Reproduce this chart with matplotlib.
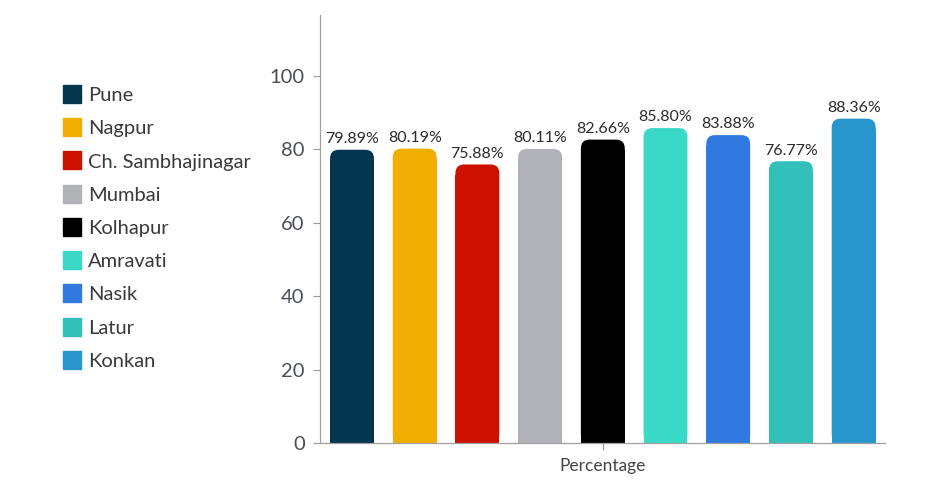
import matplotlib
matplotlib.use("Agg")
import matplotlib.pyplot as plt
from matplotlib.patches import FancyBboxPatch, Rectangle
from matplotlib.lines import Line2D

categories = ["Pune", "Nagpur", "Ch. Sambhajinagar", "Mumbai", "Kolhapur",
              "Amravati", "Nasik", "Latur", "Konkan"]
values = [79.89, 80.19, 75.88, 80.11, 82.66, 85.80, 83.88, 76.77, 88.36]
colors = ["#03354f", "#f0ae00", "#cc1100", "#b1b2b5", "#000000",
          "#3ad9c7", "#3178e0", "#33c0bb", "#2896cc"]
yticks = [0, 20, 40, 60, 80, 100]
xlabel = "Percentage"

plt.rcParams['font.family'] = ['Lato', 'DejaVu Sans']

fig = plt.figure(figsize=(9.4, 4.92), dpi=100)
ax = fig.add_axes([320/940, 1-443/492, 565/940, 428/492])

ylim_top = 116.6
xlim = (-0.51, 8.5)
ax.set_xlim(*xlim)
ax.set_ylim(0, ylim_top)

width = 0.70
r = 0.14
px_x = 565 / (xlim[1] - xlim[0])
px_y = 428 / ylim_top
aspect = px_x / px_y

for i, (v, c) in enumerate(zip(values, colors)):
    x0 = i - width / 2
    p = FancyBboxPatch((x0, 0), width, v,
                       boxstyle=f"round,pad=0,rounding_size={r}",
                       mutation_aspect=aspect, facecolor=c, edgecolor="none", zorder=2)
    ax.add_patch(p)
    ax.add_patch(Rectangle((x0, 0), width, v - r * aspect - 0.5, facecolor=c,
                           edgecolor="none", zorder=2))
    ax.text(i, v + 1.0, f"{v:.2f}%", ha="center", va="bottom", fontsize=11.5,
            color="#2b2b2b", zorder=3)

ax.set_yticks(yticks)
ax.set_yticklabels([str(t) for t in yticks], fontsize=14.5, color="#4a4d5a")
ax.set_xticks([4])
ax.set_xticklabels([xlabel], fontsize=12.5, color="#444444")
ax.tick_params(axis="y", length=5, width=0.8, color="#999999", pad=6)
ax.tick_params(axis="x", length=5, width=0.8, color="#999999", pad=6)
for s in ["top", "right"]:
    ax.spines[s].set_visible(False)
for s in ["left", "bottom"]:
    ax.spines[s].set_color("#a0a0a0")
    ax.spines[s].set_linewidth(0.9)

handles = [Line2D([], [], marker="s", linestyle="none", markersize=13,
                  markerfacecolor=c, markeredgecolor=c) for c in colors]
fig.legend(handles, categories, loc="upper left", bbox_to_anchor=(62/940, 1-87/492),
           frameon=False, fontsize=14.5, labelspacing=0.8, handlelength=1.0,
           handletextpad=0.3, labelcolor="#3a3a3a", borderpad=0, borderaxespad=0)

fig.savefig("out.png", dpi=100, facecolor="white")
